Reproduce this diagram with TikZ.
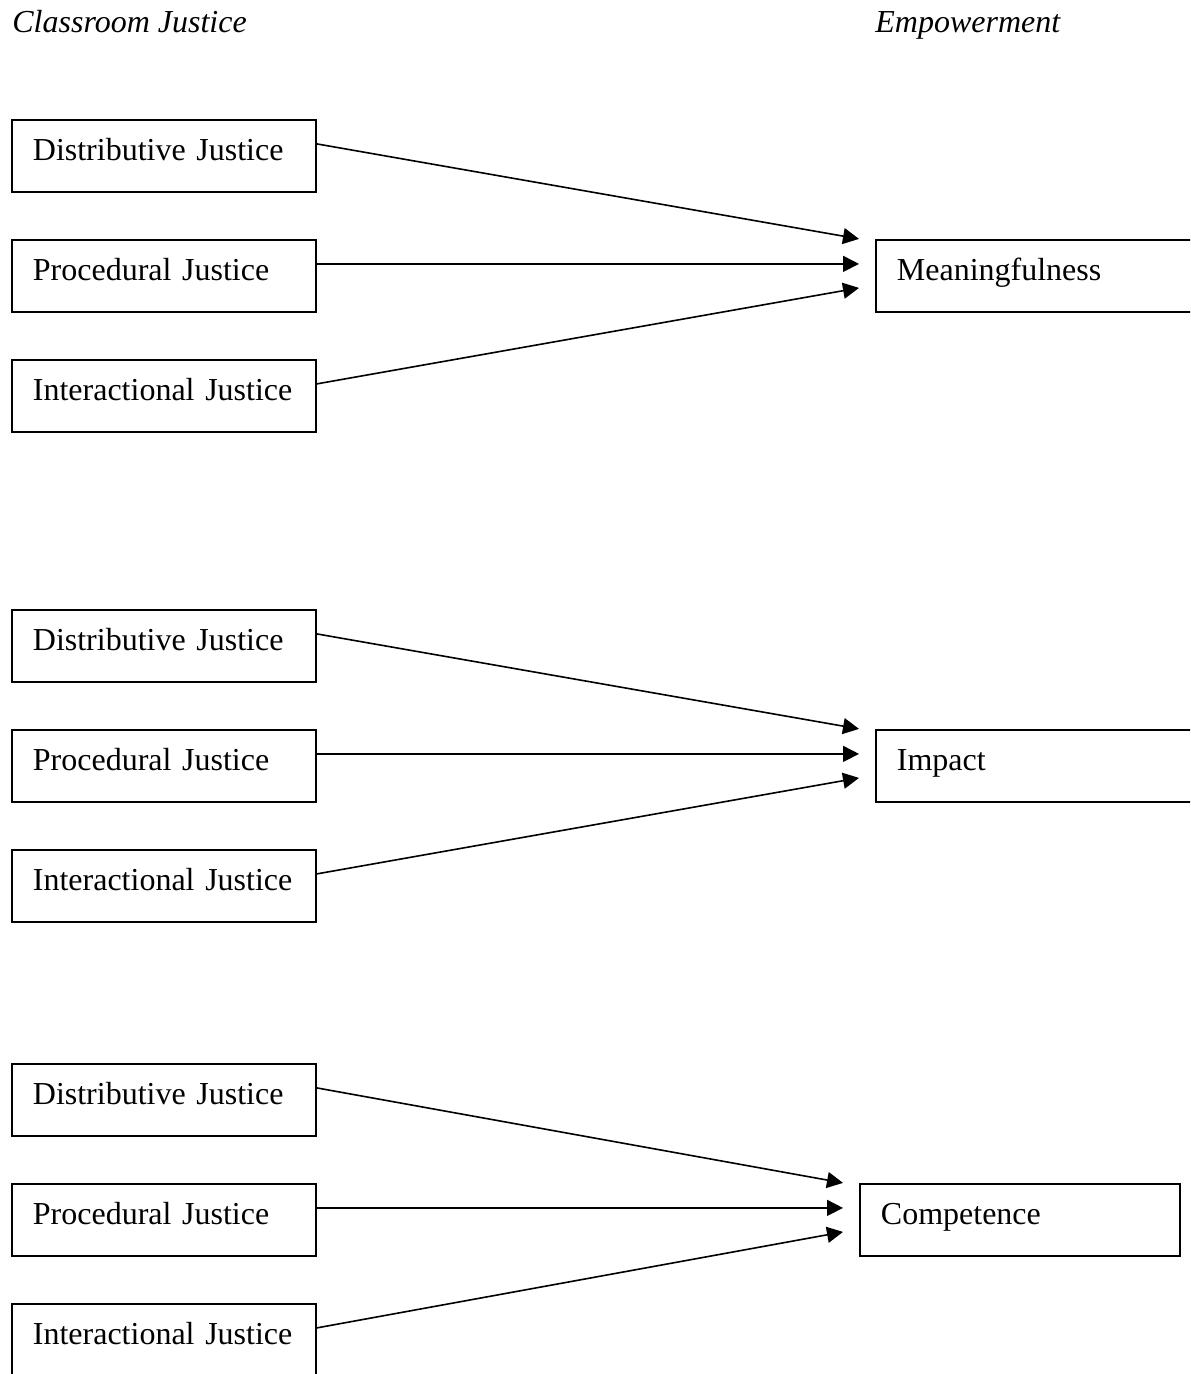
\documentclass[tikz,border=0pt]{standalone}
\usepackage{fontspec}
\setmainfont{Liberation Serif}
\usetikzlibrary{arrows.meta,calc}
\begin{document}
\begin{tikzpicture}[x=0.5pt,y=-0.5pt,
  every node/.style={font=\fontsize{16}{19}\selectfont},
  box/.style={draw,line width=0.9pt,anchor=north west,inner xsep=10.5pt,inner ysep=0pt,
    text width=131pt,align=left,minimum height=36pt,text height=0.72em,text depth=0.3em},
  rbox/.style={box,text width=139pt},
  ttl/.style={anchor=base west,inner sep=0pt,font=\fontsize{16}{19}\selectfont\itshape},
  arr/.style={line width=0.8pt,-{Triangle[length=8pt,width=8pt]}}]
\useasboundingbox (0,0) rectangle (1190,1374);
\clip (0,0) rectangle (1190,1374);
\fill[white] (0,0) rectangle (1190,1374);
\node[ttl] (t1) at (12,33) {Classroom Justice};
\node[ttl] (t2) at (875,33) {Empowerment};
% group 1
\node[box] (d1) at (11,119) {Distributive Justice};
\node[box] (p1) at (11,239) {Procedural Justice};
\node[box] (i1) at (11,359) {Interactional Justice};
\node[rbox] (m) at (875,239) {Meaningfulness};
\draw[arr] ($(d1.east)+(0,-12)$) -- ($(m.west)+(-16,-37)$);
\draw[arr] ($(p1.east)+(0,-12)$) -- ($(m.west)+(-16,-12)$);
\draw[arr] ($(i1.east)+(0,-12)$) -- ($(m.west)+(-16,12)$);
% group 2
\node[box] (d2) at (11,609) {Distributive Justice};
\node[box] (p2) at (11,729) {Procedural Justice};
\node[box] (i2) at (11,849) {Interactional Justice};
\node[rbox] (im) at (875,729) {Impact};
\draw[arr] ($(d2.east)+(0,-12)$) -- ($(im.west)+(-16,-37)$);
\draw[arr] ($(p2.east)+(0,-12)$) -- ($(im.west)+(-16,-12)$);
\draw[arr] ($(i2.east)+(0,-12)$) -- ($(im.west)+(-16,12)$);
% group 3
\node[box] (d3) at (11,1063) {Distributive Justice};
\node[box] (p3) at (11,1183) {Procedural Justice};
\node[box] (i3) at (11,1303) {Interactional Justice};
\node[rbox] (c) at (859,1183) {Competence};
\draw[arr] ($(d3.east)+(0,-12)$) -- ($(c.west)+(-16,-37)$);
\draw[arr] ($(p3.east)+(0,-12)$) -- ($(c.west)+(-16,-12)$);
\draw[arr] ($(i3.east)+(0,-12)$) -- ($(c.west)+(-16,12)$);
\end{tikzpicture}
\end{document}
